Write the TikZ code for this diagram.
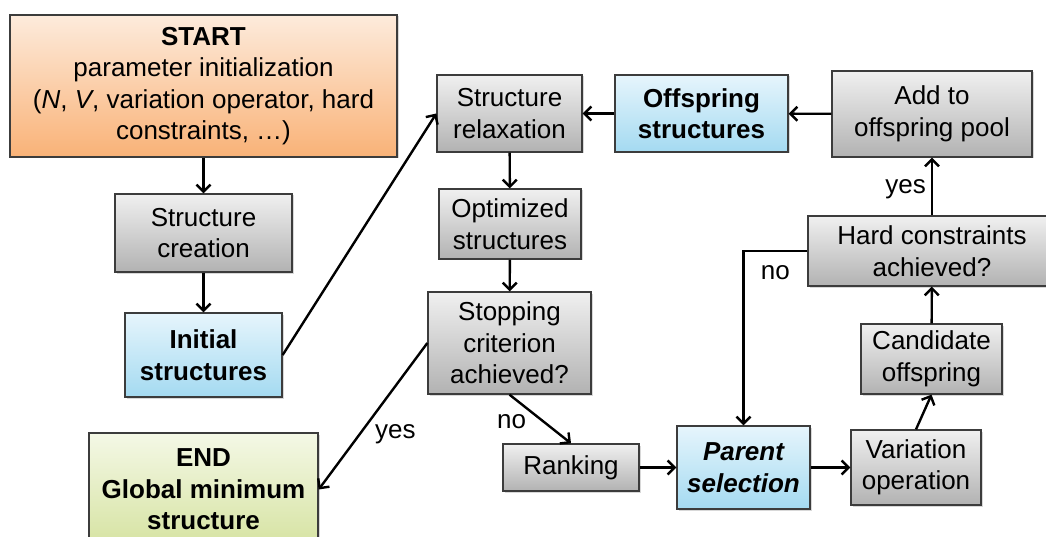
\documentclass[tikz,border=0pt]{standalone}
\usepackage{fontspec}
\setmainfont{Liberation Sans}
\usepackage{tikz}
\usetikzlibrary {arrows.meta}
\usetikzlibrary {shadows}

\definecolor{grayT}{HTML}{F0F0F0}
\definecolor{grayB}{HTML}{B2B2B2}
\definecolor{blueT}{HTML}{E6F5FC}
\definecolor{blueB}{HTML}{A4DAF1}
\definecolor{orangeT}{HTML}{FDEBDC}
\definecolor{orangeB}{HTML}{F9B277}
\definecolor{greenT}{HTML}{F4F8E6}
\definecolor{greenB}{HTML}{D6E3A2}
\definecolor{edgeC}{HTML}{3C3C3C}

\begin{document}
\begin{tikzpicture}[x=1pt,y=-1pt,
  box/.style={draw=edgeC,line width=1.3pt,align=center,inner sep=0pt,
    font=\fontsize{26}{31.5}\selectfont,
    drop shadow={shadow xshift=1.5pt,shadow yshift=-1.5pt,fill=black!30}},
  gbox/.style={box,top color=grayT,bottom color=grayB},
  bbox/.style={box,top color=blueT,bottom color=blueB,font=\fontsize{26}{31.5}\selectfont\bfseries},
  arr/.style={-{Straight Barb[length=7pt,width=14pt]},line width=2.4pt},
  lbl/.style={font=\fontsize{26}{31.5}\selectfont,inner sep=0pt}]
  \useasboundingbox (0,0) rectangle (1046,537);

  % 左の列
  \node[box,top color=orangeT,bottom color=orangeB,minimum width=387pt,minimum height=142pt] (start) at (203.5,86)
    {\textbf{START}\\parameter initialization\\(\textit{N}, \textit{V}, variation operator, hard\\constraints, …)};
  \node[gbox,minimum width=177pt,minimum height=78pt] (create) at (203.5,233) {Structure\\creation};
  \node[bbox,minimum width=157pt,minimum height=84pt] (init) at (203.5,355) {Initial\\structures};
  \node[box,top color=greenT,bottom color=greenB,minimum width=229pt,minimum height=113pt,
    font=\fontsize{26}{31.5}\selectfont\bfseries] (endbox) at (203.5,489.5) {END\\Global minimum\\structure};

  % 中央の列
  \node[gbox,minimum width=145pt,minimum height=77pt] (relax) at (509.5,113.5) {Structure\\relaxation};
  \node[gbox,minimum width=142pt,minimum height=70pt] (opt) at (510,224) {Optimized\\structures};
  \node[gbox,minimum width=163pt,minimum height=102pt] (stop) at (509.5,343) {Stopping\\criterion\\achieved?};
  \node[gbox,minimum width=136pt,minimum height=47pt] (rank) at (571,467.5) {Ranking};
  \node[bbox,minimum width=133pt,minimum height=83pt,font=\fontsize{26}{31.5}\selectfont\bfseries\itshape] (parent) at (743.5,467.5) {Parent\\selection};
  \node[bbox,minimum width=173pt,minimum height=77pt] (offs) at (701.5,113.5) {Offspring\\structures};

  % 右の列
  \node[gbox,minimum width=200pt,minimum height=86pt] (add) at (932,114) {Add to\\offspring pool};
  \node[gbox,minimum width=248pt,minimum height=70pt] (hard) at (932,251) {Hard constraints\\achieved?};
  \node[gbox,minimum width=141pt,minimum height=70pt] (cand) at (931.5,359) {Candidate\\offspring};
  \node[gbox,minimum width=130pt,minimum height=75pt] (var) at (916,467.5) {Variation\\operation};

  % 矢印
  \draw[arr] (start) -- (create);
  \draw[arr] (create) -- (init);
  \draw[arr] (init.east) -- (relax.west);
  \draw[arr] (relax) -- (opt);
  \draw[arr] (opt) -- (stop);
  \draw[arr] (stop.west) -- (endbox.east) node[lbl,pos=0.62,right=14pt] {yes};
  \draw[arr] (stop.south) -- (rank.north) node[lbl,pos=0.55,left=16pt] {no};
  \draw[arr] (rank) -- (parent);
  \draw[arr] (parent) -- (var);
  \draw[arr] (var.north) -- (cand.south);
  \draw[arr] (cand) -- (hard);
  \draw[arr] (hard) -- (add) node[lbl,pos=0.45,left=5pt] {yes};
  \draw[arr] (hard.west) -| (parent.north) node[lbl,pos=0.25,below=13pt] {no};
  \draw[arr] (add) -- (offs);
  \draw[arr] (offs) -- (relax);
\end{tikzpicture}
\end{document}
